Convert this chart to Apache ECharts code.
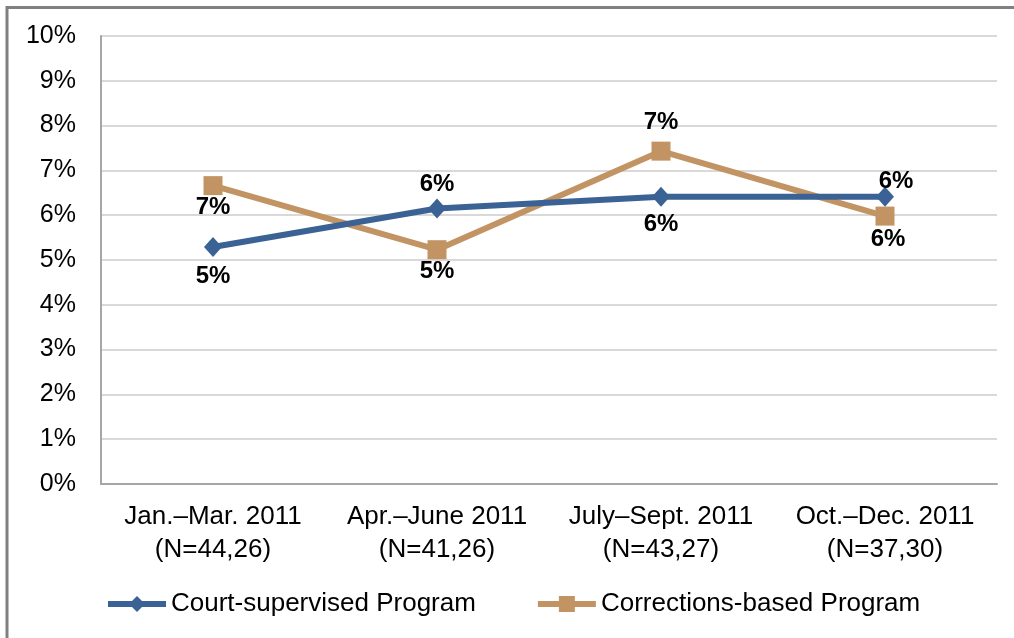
<!DOCTYPE html>
<html>
<head>
<meta charset="utf-8">
<script src="https://cdn.jsdelivr.net/npm/echarts@6/dist/echarts.min.js"></script>
<style>
html,body{margin:0;padding:0;background:#fff;}
#chart{width:1014px;height:638px;}
</style>
</head>
<body>
<div id="chart"></div>
<script>
// ---- data ----
const categories = ['Jan.\u2013Mar. 2011\n(N=44,26)', 'Apr.\u2013June 2011\n(N=41,26)', 'July\u2013Sept. 2011\n(N=43,27)', 'Oct.\u2013Dec. 2011\n(N=37,30)'];
const courtValues = [5.29, 6.15, 6.41, 6.41];
const correctionsValues = [6.66, 5.23, 7.43, 5.98];
const seriesNames = ['Court-supervised Program', 'Corrections-based Program'];
const yTicks = { min: 0, max: 10, interval: 1 };

// ---- label placement (style, not data) ----
const courtLabelOffsets = [[0, 29], [0, -24], [0, 28], [11, -15]];
const correctionsLabelOffsets = [[0, 22], [0, 22], [0, -29], [3, 23]];

const FONT = "'Liberation Sans', Arial, sans-serif";
const BLUE = '#3a6294';
const ORANGE = '#c39463';

function buildData(values, offsets) {
  return values.map((v, i) => ({
    value: v,
    label: { offset: offsets[i] }
  }));
}

const labelBase = {
  show: true,
  position: 'inside',
  align: 'center',
  verticalAlign: 'middle',
  fontFamily: FONT,
  fontSize: 24,
  fontWeight: 'bold',
  color: '#000',
  formatter: p => Math.round(p.value) + '%'
};

const chart = echarts.init(document.getElementById('chart'), null, { renderer: 'canvas' });
chart.setOption({
  animation: false,
  backgroundColor: '#fff',
  graphic: [{
    type: 'rect',
    shape: { x: 7, y: 7.5, width: 1200, height: 1000 },
    style: { fill: 'none', stroke: '#808080', lineWidth: 3 },
    silent: true
  }],
  grid: { left: 101, right: 17, top: 36, bottom: 154, containLabel: false },
  legend: {
    left: 100,
    top: 586,
    itemWidth: 58,
    itemHeight: 20,
    itemGap: 59,
    lineStyle: { width: 6 },
    textStyle: { fontFamily: FONT, fontSize: 26, color: '#000' },
    data: seriesNames
  },
  xAxis: {
    type: 'category',
    data: categories,
    boundaryGap: true,
    axisLine: { lineStyle: { color: '#a6a6a6', width: 2 } },
    axisTick: { show: false },
    axisLabel: {
      fontFamily: FONT, fontSize: 26, color: '#000',
      lineHeight: 33, margin: 16, interval: 0
    },
    splitLine: { show: false }
  },
  yAxis: {
    type: 'value',
    min: yTicks.min, max: yTicks.max, interval: yTicks.interval,
    axisLine: { show: true, lineStyle: { color: '#a6a6a6', width: 2 } },
    axisTick: { show: false },
    axisLabel: {
      fontFamily: FONT, fontSize: 25, color: '#000', margin: 25,
      formatter: '{value}%'
    },
    splitLine: { show: true, lineStyle: { color: '#d9d9d9', width: 2 } }
  },
  series: [
    {
      name: seriesNames[0],
      type: 'line',
      data: buildData(courtValues, courtLabelOffsets),
      symbol: 'diamond',
      symbolSize: [18, 20],
      lineStyle: { color: BLUE, width: 6 },
      itemStyle: { color: BLUE },
      label: labelBase,
      z: 3
    },
    {
      name: seriesNames[1],
      type: 'line',
      data: buildData(correctionsValues, correctionsLabelOffsets),
      symbol: 'rect',
      symbolSize: 19,
      lineStyle: { color: ORANGE, width: 6 },
      itemStyle: { color: ORANGE },
      label: labelBase,
      z: 2
    }
  ]
});
</script>
</body>
</html>
